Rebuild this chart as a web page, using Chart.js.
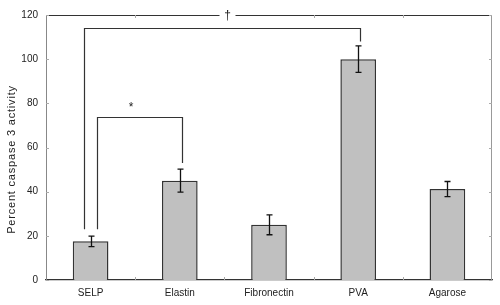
<!DOCTYPE html>
<html>
<head>
<meta charset="utf-8">
<script src="https://cdn.jsdelivr.net/npm/chart.js@4/dist/chart.umd.min.js"></script>
<style>
  html, body { margin: 0; padding: 0; background: #fff; }
  #wrap { width: 500px; height: 305px; }
</style>
</head>
<body>
<div id="wrap"><canvas id="caspaseChart"></canvas></div>
<script>
// data
const materials = ["SELP", "Elastin", "Fibronectin", "PVA", "Agarose"];
const caspaseActivity = [17.5, 45, 25, 100, 41.2];
const caspaseError = [2.4, 5.2, 4.5, 6, 3.4];
const yTicks = [0, 20, 40, 60, 80, 100, 120];
const yTitle = "Percent caspase 3 activity";

// significance brackets: from / to category index, top level, leg bottoms, label
const bracketFrom = [0, 0];
const bracketTo = [1, 3];
const bracketTop = [74, 114];
const bracketLegFrom = [23, 23];
const bracketLegTo = [53, 108];
const bracketLabel = ["*", "\u2020"];
const bracketShift = [6.5, -6.5]; // px offset of left leg from SELP centre

const FONT = "'Liberation Sans', Arial, sans-serif";

// ✅ error bars
const errorBars = {
    id: "errorBars",
    afterDatasetsDraw(chart) {
        const { ctx, scales: { x, y } } = chart;
        ctx.save();
        ctx.strokeStyle = "#111";
        ctx.lineWidth = 1.3;
        caspaseActivity.forEach((v, i) => {
            const px = Math.round(x.getPixelForValue(i)) + 0.5;
            const hi = y.getPixelForValue(v + caspaseError[i]);
            const lo = y.getPixelForValue(v - caspaseError[i]);
            ctx.beginPath();
            ctx.moveTo(px, hi); ctx.lineTo(px, lo);
            ctx.moveTo(px - 3, hi); ctx.lineTo(px + 3, hi);
            ctx.moveTo(px - 3, lo); ctx.lineTo(px + 3, lo);
            ctx.stroke();
        });
        ctx.restore();
    }
};

// ✅ frame + inward ticks + brackets + y title
const frameAndBrackets = {
    id: "frameAndBrackets",
    afterDraw(chart) {
        const { ctx, chartArea: a, scales: { x, y } } = chart;
        ctx.save();
        // top and right border
        ctx.lineWidth = 1;
        ctx.strokeStyle = "#333";
        ctx.beginPath();
        ctx.moveTo(a.left, a.top + 0.5); ctx.lineTo(a.right, a.top + 0.5);
        ctx.stroke();
        ctx.strokeStyle = "#999";
        ctx.beginPath();
        ctx.moveTo(a.right - 0.5, a.top); ctx.lineTo(a.right - 0.5, a.bottom);
        ctx.stroke();

        // inward ticks
        ctx.strokeStyle = "#aaa";
        ctx.beginPath();
        yTicks.forEach(t => {
            const py = Math.round(y.getPixelForValue(t)) + 0.5;
            ctx.moveTo(a.left, py); ctx.lineTo(a.left + 3, py);
            ctx.moveTo(a.right, py); ctx.lineTo(a.right - 3, py);
        });
        for (let i = 1; i < materials.length; i++) {
            const px = Math.round((x.getPixelForValue(i - 1) + x.getPixelForValue(i)) / 2) + 0.5;
            ctx.moveTo(px, a.bottom); ctx.lineTo(px, a.bottom - 3);
            ctx.moveTo(px, a.top); ctx.lineTo(px, a.top + 3);
        }
        ctx.stroke();

        // brackets
        ctx.strokeStyle = "#333";
        ctx.lineWidth = 1.2;
        ctx.fillStyle = "#222";
        ctx.font = "12px " + FONT;
        ctx.textAlign = "center";
        ctx.textBaseline = "middle";
        bracketFrom.forEach((f, i) => {
            const x1 = Math.round(x.getPixelForValue(f) + bracketShift[i]) + 0.5;
            const x2 = Math.round(x.getPixelForValue(bracketTo[i]) + 2) + 0.5;
            const top = Math.round(y.getPixelForValue(bracketTop[i])) + 0.5;
            ctx.beginPath();
            ctx.moveTo(x1, y.getPixelForValue(bracketLegFrom[i]));
            ctx.lineTo(x1, top);
            ctx.lineTo(x2, top);
            ctx.lineTo(x2, y.getPixelForValue(bracketLegTo[i]));
            ctx.stroke();
            const mid = (x1 + x2) / 2 + (i === 0 ? -9 : 5);
            if (i === 1) {
                // label sits on the top border with a white box
                ctx.fillStyle = "#fff";
                ctx.fillRect(mid - 8, a.top - 5, 16, 10);
                ctx.fillStyle = "#222";
                ctx.fillText(bracketLabel[i], mid, a.top + 1);
            } else {
                ctx.fillText(bracketLabel[i], mid, top - 10);
            }
        });

        // y axis title, sits a bit below the middle of the axis
        ctx.font = "11px " + FONT;
        ctx.letterSpacing = "0.8px";
        ctx.translate(12, (a.top + a.bottom) / 2 + 12);
        ctx.rotate(-Math.PI / 2);
        ctx.fillText(yTitle, 0, 0);
        ctx.restore();
    }
};

const ctx = document.getElementById("caspaseChart").getContext("2d");
const caspaseChart = new Chart(ctx, {
    type: "bar",
    data: {
        labels: materials,
        datasets: [{
            data: caspaseActivity,
            backgroundColor: "#c0c0c0",
            borderColor: "#333",
            borderWidth: 1.5,
            borderSkipped: "bottom",
            barPercentage: 0.4,
            categoryPercentage: 1
        }]
    },
    options: {
        responsive: true,
        maintainAspectRatio: false,
        animation: false,
        devicePixelRatio: 1,
        layout: { padding: { top: 15, right: 8, left: 0, bottom: 0 } },
        plugins: {
            legend: { display: false },
            tooltip: { enabled: false }
        },
        scales: {
            x: {
                grid: { display: false, drawTicks: false },
                border: { display: true, color: "#333", width: 1.2 },
                ticks: {
                    color: "#222",
                    font: { family: FONT, size: 10 },
                    padding: 7
                },
                afterFit(scale) { scale.height = 25; }
            },
            y: {
                min: 0,
                max: 120,
                grid: { display: false, drawTicks: false },
                border: { display: true, color: "#888", width: 1 },
                ticks: {
                    stepSize: 20,
                    color: "#222",
                    font: { family: FONT, size: 10 },
                    padding: 8
                },
                afterFit(scale) { scale.width = 46; }
            }
        }
    },
    plugins: [errorBars, frameAndBrackets]
});
</script>
</body>
</html>
